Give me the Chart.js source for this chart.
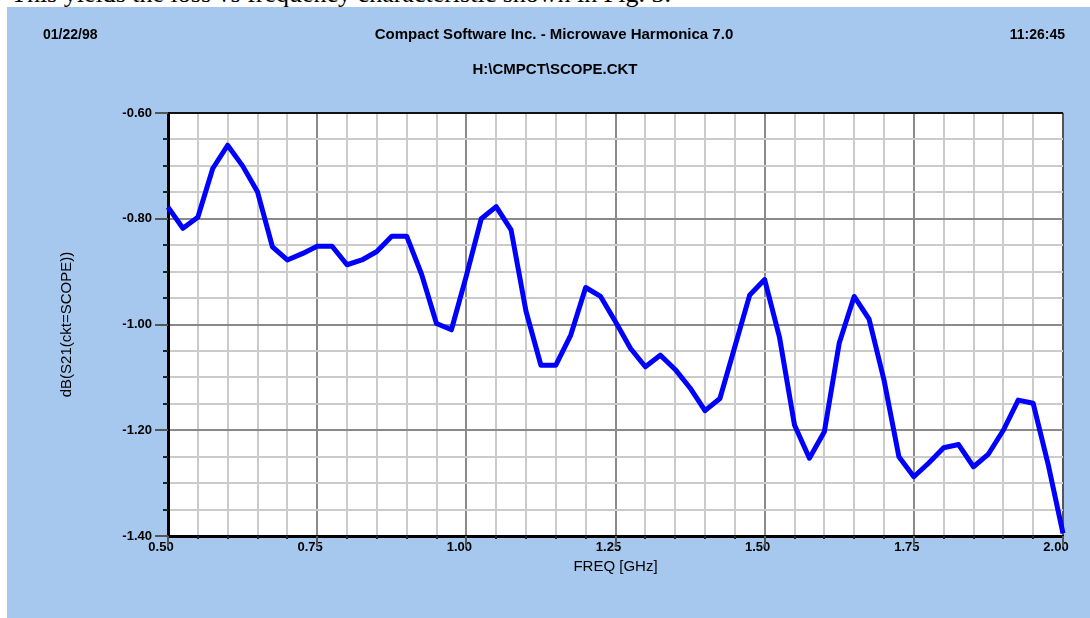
<!DOCTYPE html>
<html>
<head>
<meta charset="utf-8">
<title>dB(S21) vs FREQ</title>
<script src="https://cdn.jsdelivr.net/npm/chart.js@4.4.1/dist/chart.umd.min.js"></script>
<style>
  html, body { margin: 0; padding: 0; background: #ffffff; width: 1090px; height: 618px; overflow: hidden; }
  #caption {
    position: absolute; left: 11px; top: -19px;
    font: 26px "Liberation Serif", "Times New Roman", serif; line-height: 26px;
    color: #000; white-space: nowrap; z-index: 1;
  }
  #panel {
    position: absolute; left: 7px; top: 7px; width: 1083px; height: 611px;
    background: #a6c8ee; z-index: 2;
  }
  #chart { display: block; }
</style>
</head>
<body>
<div id="caption">This yields the loss vs frequency characteristic shown in Fig. 3.</div>
<div id="panel"><canvas id="chart" width="1083" height="611"></canvas></div>
<script>
// Swept S21 of SCOPE.CKT, 0.5 - 2.0 GHz in 25 MHz steps
const freqGHz = [
  0.500, 0.525, 0.550, 0.575, 0.600, 0.625, 0.650, 0.675, 0.700, 0.725,
  0.750, 0.775, 0.800, 0.825, 0.850, 0.875, 0.900, 0.925, 0.950, 0.975,
  1.000, 1.025, 1.050, 1.075, 1.100, 1.125, 1.150, 1.175, 1.200, 1.225,
  1.250, 1.275, 1.300, 1.325, 1.350, 1.375, 1.400, 1.425, 1.450, 1.475,
  1.500, 1.525, 1.550, 1.575, 1.600, 1.625, 1.650, 1.675, 1.700, 1.725,
  1.750, 1.775, 1.800, 1.825, 1.850, 1.875, 1.900, 1.925, 1.950, 1.975,
  2.000
];
const s21dB = [
  -0.778, -0.818, -0.797, -0.705, -0.661, -0.700, -0.749, -0.853, -0.878, -0.866,
  -0.852, -0.852, -0.887, -0.878, -0.862, -0.833, -0.833, -0.905, -0.998, -1.010,
  -0.908, -0.800, -0.777, -0.821, -0.975, -1.077, -1.077, -1.020, -0.930, -0.947,
  -0.995, -1.045, -1.080, -1.058, -1.085, -1.120, -1.163, -1.140, -1.042, -0.944,
  -0.915, -1.025, -1.190, -1.253, -1.203, -1.035, -0.947, -0.990, -1.105, -1.250,
  -1.288, -1.262, -1.233, -1.227, -1.269, -1.245, -1.200, -1.143, -1.149, -1.264,
  -1.395
];

// Labelled (major) ticks; the grid is subdivided between them
const xTickValues = [0.50, 0.75, 1.00, 1.25, 1.50, 1.75, 2.00];
const xTickLabels = ['0.50', '0.75', '1.00', '1.25', '1.50', '1.75', '2.00'];
const yTickValues = [-0.60, -0.80, -1.00, -1.20, -1.40];
const yTickLabels = ['-0.60', '-0.80', '-1.00', '-1.20', '-1.40'];

const headerLeft = '01/22/98';
const headerTitle = 'Compact Software Inc. - Microwave Harmonica 7.0';
const headerFile = 'H:\\CMPCT\\SCOPE.CKT';
const headerRight = '11:26:45';
const xTitle = 'FREQ [GHz]';
const yTitle = 'dB(S21(ckt=SCOPE))';

const SANS = '"Liberation Sans", Arial, sans-serif';

function majorIndex(values, v) {
  for (let i = 0; i < values.length; i++) {
    if (Math.abs(values[i] - v) < 1e-6) return i;
  }
  return -1;
}

// White plotting field behind the grid
const plotField = {
  id: 'plotField',
  beforeDraw(chart) {
    const a = chart.chartArea;
    const ctx = chart.ctx;
    ctx.save();
    ctx.fillStyle = '#ffffff';
    ctx.fillRect(a.left, a.top, a.right - a.left, a.bottom - a.top);
    ctx.restore();
  }
};

// Header texts and the short tick marks outside the plot frame
const frameExtras = {
  id: 'frameExtras',
  afterDraw(chart) {
    const ctx = chart.ctx;
    const xs = chart.scales.x, ys = chart.scales.y;
    const area = chart.chartArea;
    ctx.save();

    ctx.fillStyle = '#000';
    ctx.textBaseline = 'alphabetic';
    ctx.font = 'bold 14px ' + SANS;
    ctx.textAlign = 'left';
    ctx.fillText(headerLeft, 36, 32);
    ctx.textAlign = 'right';
    ctx.fillText(headerRight, 1058, 32);
    ctx.font = 'bold 15px ' + SANS;
    ctx.textAlign = 'center';
    ctx.fillText(headerTitle, 547, 32);
    ctx.fillText(headerFile, 548, 67);

    ctx.lineWidth = 2;
    ys.ticks.forEach(t => {
      const y = Math.round(ys.getPixelForValue(t.value));
      const major = majorIndex(yTickValues, t.value) >= 0;
      ctx.strokeStyle = major ? '#555' : '#222';
      ctx.beginPath();
      ctx.moveTo(area.left - (major ? 13 : 5), y);
      ctx.lineTo(area.left, y);
      ctx.stroke();
    });
    xs.ticks.forEach(t => {
      const x = Math.round(xs.getPixelForValue(t.value));
      const major = majorIndex(xTickValues, t.value) >= 0;
      ctx.strokeStyle = major ? '#555' : '#222';
      ctx.beginPath();
      ctx.moveTo(x, area.bottom);
      ctx.lineTo(x, area.bottom + (major ? 11 : 3));
      ctx.stroke();
    });
    ctx.restore();
  }
};

new Chart(document.getElementById('chart'), {
  type: 'line',
  data: {
    datasets: [{
      data: freqGHz.map((f, i) => ({ x: f, y: s21dB[i] })),
      borderColor: '#0000ff',
      borderWidth: 5,
      borderJoinStyle: 'round',
      pointRadius: 0,
      tension: 0,
      fill: false,
      clip: 4
    }]
  },
  options: {
    responsive: false,
    devicePixelRatio: 1,
    animation: false,
    layout: { padding: { left: 0, top: 106, right: 27, bottom: 0 } },
    plugins: { legend: { display: false }, title: { display: false }, tooltip: { enabled: false } },
    scales: {
      x: {
        type: 'linear',
        min: 0.5, max: 2.0,
        afterFit(scale) { scale.height = 82; },
        ticks: {
          stepSize: 0.05,
          autoSkip: false,
          maxRotation: 0,
          padding: 4,
          labelOffset: -7,
          color: '#000',
          font: { family: SANS, size: 13, weight: 'bold' },
          callback(v) { const i = majorIndex(xTickValues, v); return i >= 0 ? xTickLabels[i] : ''; }
        },
        grid: {
          drawTicks: false,
          lineWidth: 2,
          color(c) {
            const v = c.tick ? c.tick.value : 0;
            if (Math.abs(v - 2.0) < 1e-6) return '#555';
            return majorIndex(xTickValues, v) >= 0 ? '#8a8a8a' : '#cbcbcb';
          }
        },
        border: { display: true, color: '#000', width: 3 },
        title: {
          display: true, text: xTitle, color: '#000',
          font: { family: SANS, size: 15, weight: 'normal' },
          padding: { top: 0, bottom: 42 }
        }
      },
      y: {
        type: 'linear',
        min: -1.4, max: -0.6,
        afterFit(scale) { scale.width = 161; },
        ticks: {
          stepSize: 0.05,
          autoSkip: false,
          padding: 16,
          color: '#000',
          font: { family: SANS, size: 13, weight: 'bold' },
          callback(v) { const i = majorIndex(yTickValues, v); return i >= 0 ? yTickLabels[i] : ''; }
        },
        grid: {
          drawTicks: false,
          lineWidth: 2,
          color(c) {
            const v = c.tick ? c.tick.value : 0;
            if (Math.abs(v + 0.6) < 1e-6) return '#111';
            return majorIndex(yTickValues, v) >= 0 ? '#8a8a8a' : '#cbcbcb';
          }
        },
        border: { display: true, color: '#000', width: 3 },
        title: {
          display: true, text: yTitle, color: '#000',
          font: { family: SANS, size: 15, weight: 'normal' },
          padding: { top: 51, bottom: 0 }
        }
      }
    }
  },
  plugins: [plotField, frameExtras]
});
</script>
</body>
</html>
